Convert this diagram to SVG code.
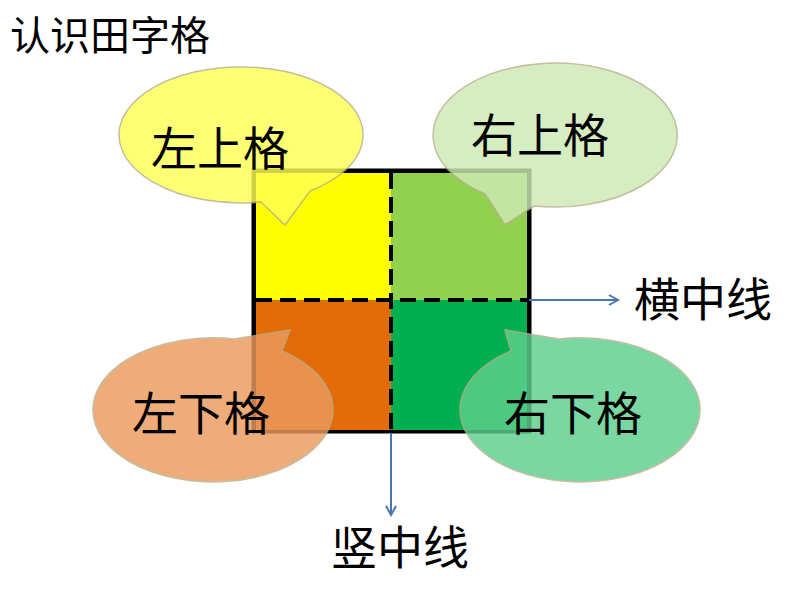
<svg xmlns="http://www.w3.org/2000/svg" width="794" height="596" viewBox="0 0 794 596">
<style>
text{font-family:"Noto Sans CJK SC",sans-serif;fill:#000}
.t{font-size:46px}
.c{stroke:#b8b08a;stroke-width:1.5;opacity:0.82}
.d{stroke:#000;stroke-width:4;stroke-dasharray:16 8;fill:none}
.a{stroke:#4a76b0;stroke-width:2;fill:none}
</style>
<defs><marker id="ar" markerWidth="12" markerHeight="12" refX="10" refY="6" orient="auto" markerUnits="userSpaceOnUse"><path d="M1 1 L10 6 L1 11" fill="none" stroke="#4a76b0" stroke-width="2"/></marker></defs>
<rect width="794" height="596" fill="#fff"/>
<text x="10" y="50" style="font-size:40px">认识田字格</text>
<g id="grid">
<rect x="254" y="171" width="275" height="260" fill="none" stroke="#000" stroke-width="5"/>
<rect x="256" y="173" width="135" height="127" fill="#ffff00"/>
<rect x="391" y="173" width="136" height="127" fill="#92d050"/>
<rect x="256" y="300" width="135" height="130" fill="#e36c09"/>
<rect x="391" y="300" width="136" height="130" fill="#00b050"/>
<line class="d" x1="391" y1="173" x2="391" y2="432"/>
<line class="d" x1="256" y1="300" x2="527" y2="300"/>
</g>
<g id="connectors">
<line class="a" x1="529" y1="300" x2="618" y2="300" marker-end="url(#ar)"/>
<line class="a" x1="391" y1="433" x2="391" y2="515" marker-end="url(#ar)"/>
</g>
<g id="tl"><path class="c" fill="#ffff55" d="M261 202 L285 225 L310 191 A122 68 0 1 0 261 202 Z"/><text class="t" x="151" y="165">左上格</text></g>
<g id="tr"><path class="c" fill="#cdeab4" d="M485 194 L505 225 L534 206 A122 72 0 1 0 485 194 Z"/><text class="t" x="471" y="152">右上格</text></g>
<g id="bl"><path class="c" fill="#eb9a5e" d="M234 339 L290 330 L282 351 A120 72 0 1 1 234 339 Z"/><text class="t" x="132" y="430">左下格</text></g>
<g id="br"><path class="c" fill="#5fcf8e" d="M511 351 L505 330 L559 339 A120 72 0 1 1 511 351 Z"/><text class="t" x="504" y="430">右下格</text></g>
<text class="t" x="634" y="316">横中线</text>
<text class="t" x="331" y="564">竖中线</text>
</svg>
